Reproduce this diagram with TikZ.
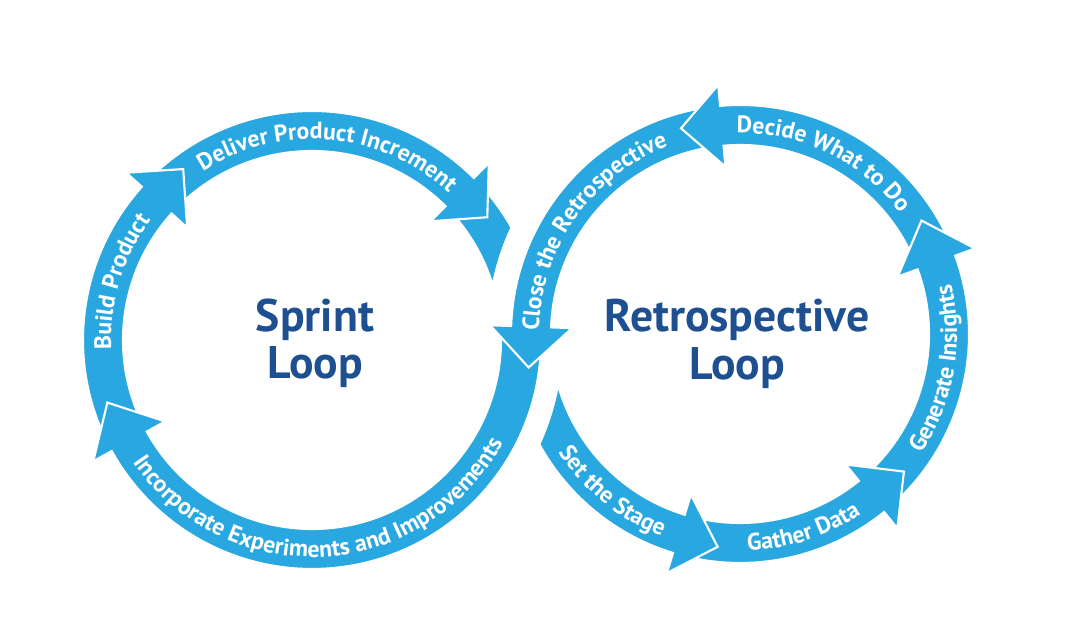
\documentclass[tikz,border=0pt]{standalone}
\usepackage{fontspec}
\setmainfont{PT Sans}
\usepackage{tikz}
\usetikzlibrary{decorations.text}

\definecolor{loopblue}{RGB}{41,167,224}
\definecolor{titleblue}{RGB}{30,80,145}
\newcommand{\segfont}{\bfseries\fontsize{13.5}{16}\selectfont}

\begin{document}
\begin{tikzpicture}[x=0.02cm,y=0.02cm,
  band/.style={fill=loopblue, draw=white, line width=1.2pt},
  looptext/.style={decorate, decoration={text along path, text align=center, text color=white}},
  title/.style={text=titleblue, font=\bfseries\fontsize{26}{27}\selectfont, align=center}]
\useasboundingbox (0,0) rectangle (1068,624);
\coordinate (sprint) at (312,284);
\coordinate (retro) at (740,290);

% sprint loop (clockwise)
\begin{scope}[shift={(sprint)}]
\path[band] (47:229) arc[start angle=47, end angle=29.4, radius=229] arc[start angle=155, end angle=168.8, radius=252] arc[start angle=16.9, end angle=47, radius=189] -- cycle;
\path[band] (138:229) arc[start angle=138, end angle=45, radius=229] -- (45:250) -- (35:214) -- (45:168) -- (45:189) arc[start angle=45, end angle=138, radius=189] -- cycle;
\path[band] (209:229) arc[start angle=209, end angle=138, radius=229] -- (138:250) -- (127:214) -- (138:168) -- (138:189) arc[start angle=138, end angle=209, radius=189] -- cycle;
\path[band] (2:229) arc[start angle=2, end angle=-151, radius=229] -- (-151:250) -- (-163:214) -- (-151:168) -- (-151:189) arc[start angle=-151, end angle=2, radius=189] -- cycle;
\path[looptext, decoration={text={|\segfont|Build Product}}] (203:201) arc[start angle=203, end angle=123, radius=201];
\path[looptext, decoration={text={|\segfont|Deliver Product Increment}}] (132:201) arc[start angle=132, end angle=38, radius=201];
\path[looptext, decoration={text={|\segfont|Incorporate Experiments and Improvements}}] (200:217) arc[start angle=200, end angle=346, radius=217];
\end{scope}

% retrospective loop (counter clockwise)
\begin{scope}[shift={(retro)}]
\path[band] (95:229) arc[start angle=95, end angle=178, radius=229] -- (178:250) -- (189:214) -- (178:168) -- (178:189) arc[start angle=178, end angle=95, radius=189] -- cycle;
\path[band] (20:229) arc[start angle=20, end angle=95, radius=229] -- (95:250) -- (106:214) -- (95:168) -- (95:189) arc[start angle=95, end angle=20, radius=189] -- cycle;
\path[band] (-51:229) arc[start angle=-51, end angle=20, radius=229] -- (20:250) -- (32:214) -- (20:168) -- (20:189) arc[start angle=20, end angle=-51, radius=189] -- cycle;
\path[band] (253:229) arc[start angle=253, end angle=309, radius=229] -- (309:250) -- (320:214) -- (309:168) -- (309:189) arc[start angle=309, end angle=253, radius=189] -- cycle;
\path[band] (208.7:229) arc[start angle=208.7, end angle=253, radius=229] -- (253:250) -- (264:214) -- (253:168) -- (253:189) arc[start angle=253, end angle=195.6, radius=189] arc[start angle=-10.3, end angle=-24.6, radius=250] -- cycle;
\path[looptext, decoration={text={|\segfont|Close the Retrospective}}] (192:201) arc[start angle=192, end angle=98, radius=201];
\path[looptext, decoration={text={|\segfont|Decide What to Do}}] (102:201) arc[start angle=102, end angle=26, radius=201];
\path[looptext, decoration={text={|\segfont|Generate Insights}}] (-47:217) arc[start angle=-47, end angle=27, radius=217];
\path[looptext, decoration={text={|\segfont|Gather Data}}] (255:217) arc[start angle=255, end angle=321, radius=217];
\path[looptext, decoration={text={|\segfont|Set the Stage}}] (203:217) arc[start angle=203, end angle=259, radius=217];
\end{scope}

\node [title] (sprintlabel) at (315,281) {Sprint\\Loop};
\node [title] (retrolabel) at (737,280) {Retrospective\\Loop};
\end{tikzpicture}
\end{document}
